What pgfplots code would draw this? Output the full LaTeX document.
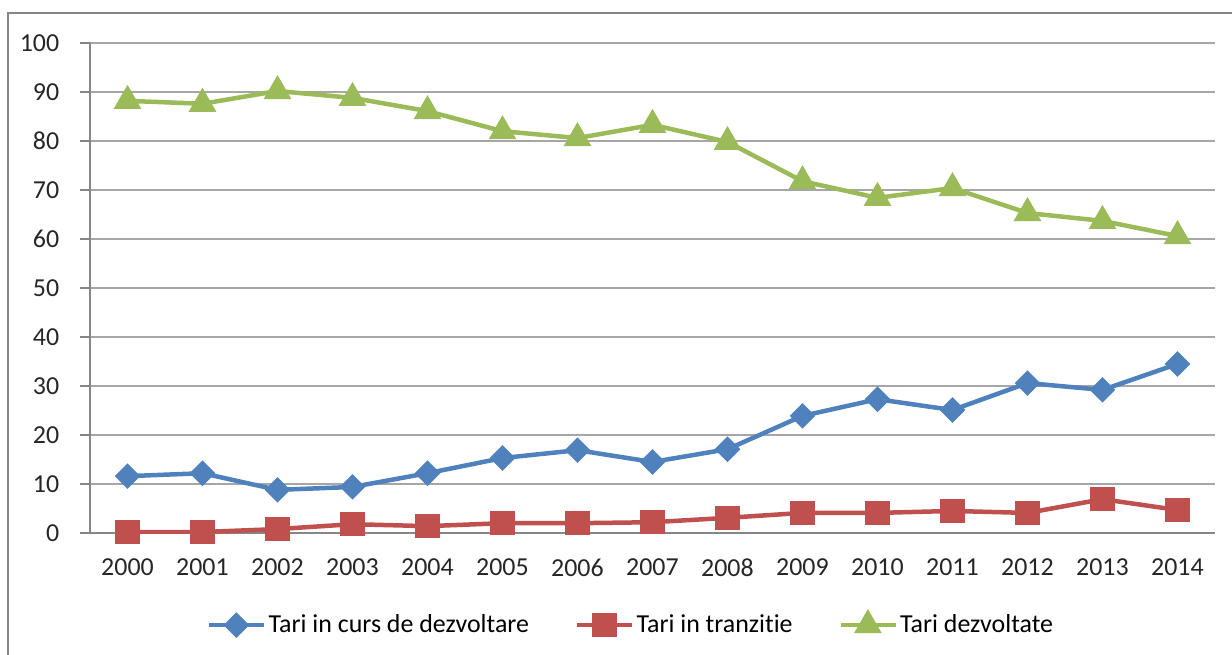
\documentclass[border=0pt]{standalone}
\usepackage{fontspec}
\setmainfont[Ligatures=CommonOff]{Carlito}
\usepackage{pgfplots}
\pgfplotsset{compat=1.18}
\definecolor{xlblue}{HTML}{4F81BD}
\definecolor{xlred}{HTML}{C0504D}
\definecolor{xlgreen}{HTML}{9BBB59}
\definecolor{gridgray}{HTML}{A6A6A6}
\definecolor{axgray}{HTML}{868686}

\begin{document}
\fontsize{26}{30}\selectfont
\begin{tikzpicture}
% page frame, y measured downward from the top edge
\path[use as bounding box] (0,0) rectangle (1232bp,-655bp);
\draw[axgray, line width=2.5bp] (8bp,-655bp) -- (8bp,-13bp) -- (1232bp,-13bp);

\begin{axis}[
    at={(90bp,-533bp)}, anchor=south west,
    scale only axis, width=1125bp, height=490bp,
    xmin=1999.5, xmax=2014.5, ymin=0, ymax=100,
    xtick={2000,...,2014}, ytick={0,10,...,100},
    minor xtick={1999.5,2000.5,...,2014.5},
    axis x line*=bottom, axis y line*=left,
    axis line style={axgray, line width=1.2bp, -},
    ymajorgrids, major grid style={gridgray, line width=1.2bp},
    xtick style={draw=none},
    minor x tick style={axgray, line width=1.2bp},
    ytick style={axgray, line width=1.2bp},
    major tick length=10bp, minor tick length=9bp,
    tick align=outside,
    /pgf/number format/1000 sep={},
    /pgf/number format/assume math mode=true,
    ticklabel style={font=\fontsize{26}{30}\selectfont, text=black!85},
    xticklabel style={yshift=-7bp},
    yticklabel style={xshift=-12bp},
    legend style={at={(0.481,-0.188)}, anchor=center, draw=none,
        legend columns=3, font=\fontsize{26}{30}\selectfont,
        /tikz/every even column/.append style={column sep=44bp}},
    legend image code/.code={
        \draw[mark repeat=2, mark phase=2, #1] plot coordinates {(0bp,0bp) (27bp,0bp) (55bp,0bp)};},
    every axis plot/.append style={line width=4.5bp},
]
\addplot[xlblue, mark=square*, mark size=6.8bp, mark options={rotate=45, solid}] coordinates {
    (2000,11.6) (2001,12.2) (2002,8.8) (2003,9.4) (2004,12.2) (2005,15.3) (2006,16.9)
    (2007,14.5) (2008,17.1) (2009,23.9) (2010,27.3) (2011,25.1) (2012,30.6) (2013,29.2) (2014,34.5)
};
\addplot[xlred, mark=square*, mark size=10bp] coordinates {
    (2000,0.2) (2001,0.2) (2002,0.8) (2003,1.8) (2004,1.4) (2005,2.0) (2006,2.0)
    (2007,2.2) (2008,3.1) (2009,4.1) (2010,4.1) (2011,4.5) (2012,4.1) (2013,6.9) (2014,4.7)
};
\addplot[xlgreen, mark=triangle*, mark size=11.5bp] coordinates {
    (2000,88.2) (2001,87.6) (2002,90.2) (2003,88.8) (2004,86.1) (2005,82.0) (2006,80.6)
    (2007,83.3) (2008,79.8) (2009,71.8) (2010,68.4) (2011,70.4) (2012,65.3) (2013,63.7) (2014,60.6)
};
\legend{Tari in curs de dezvoltare, Tari in tranzitie, Tari dezvoltate}
\end{axis}
\end{tikzpicture}
\end{document}
